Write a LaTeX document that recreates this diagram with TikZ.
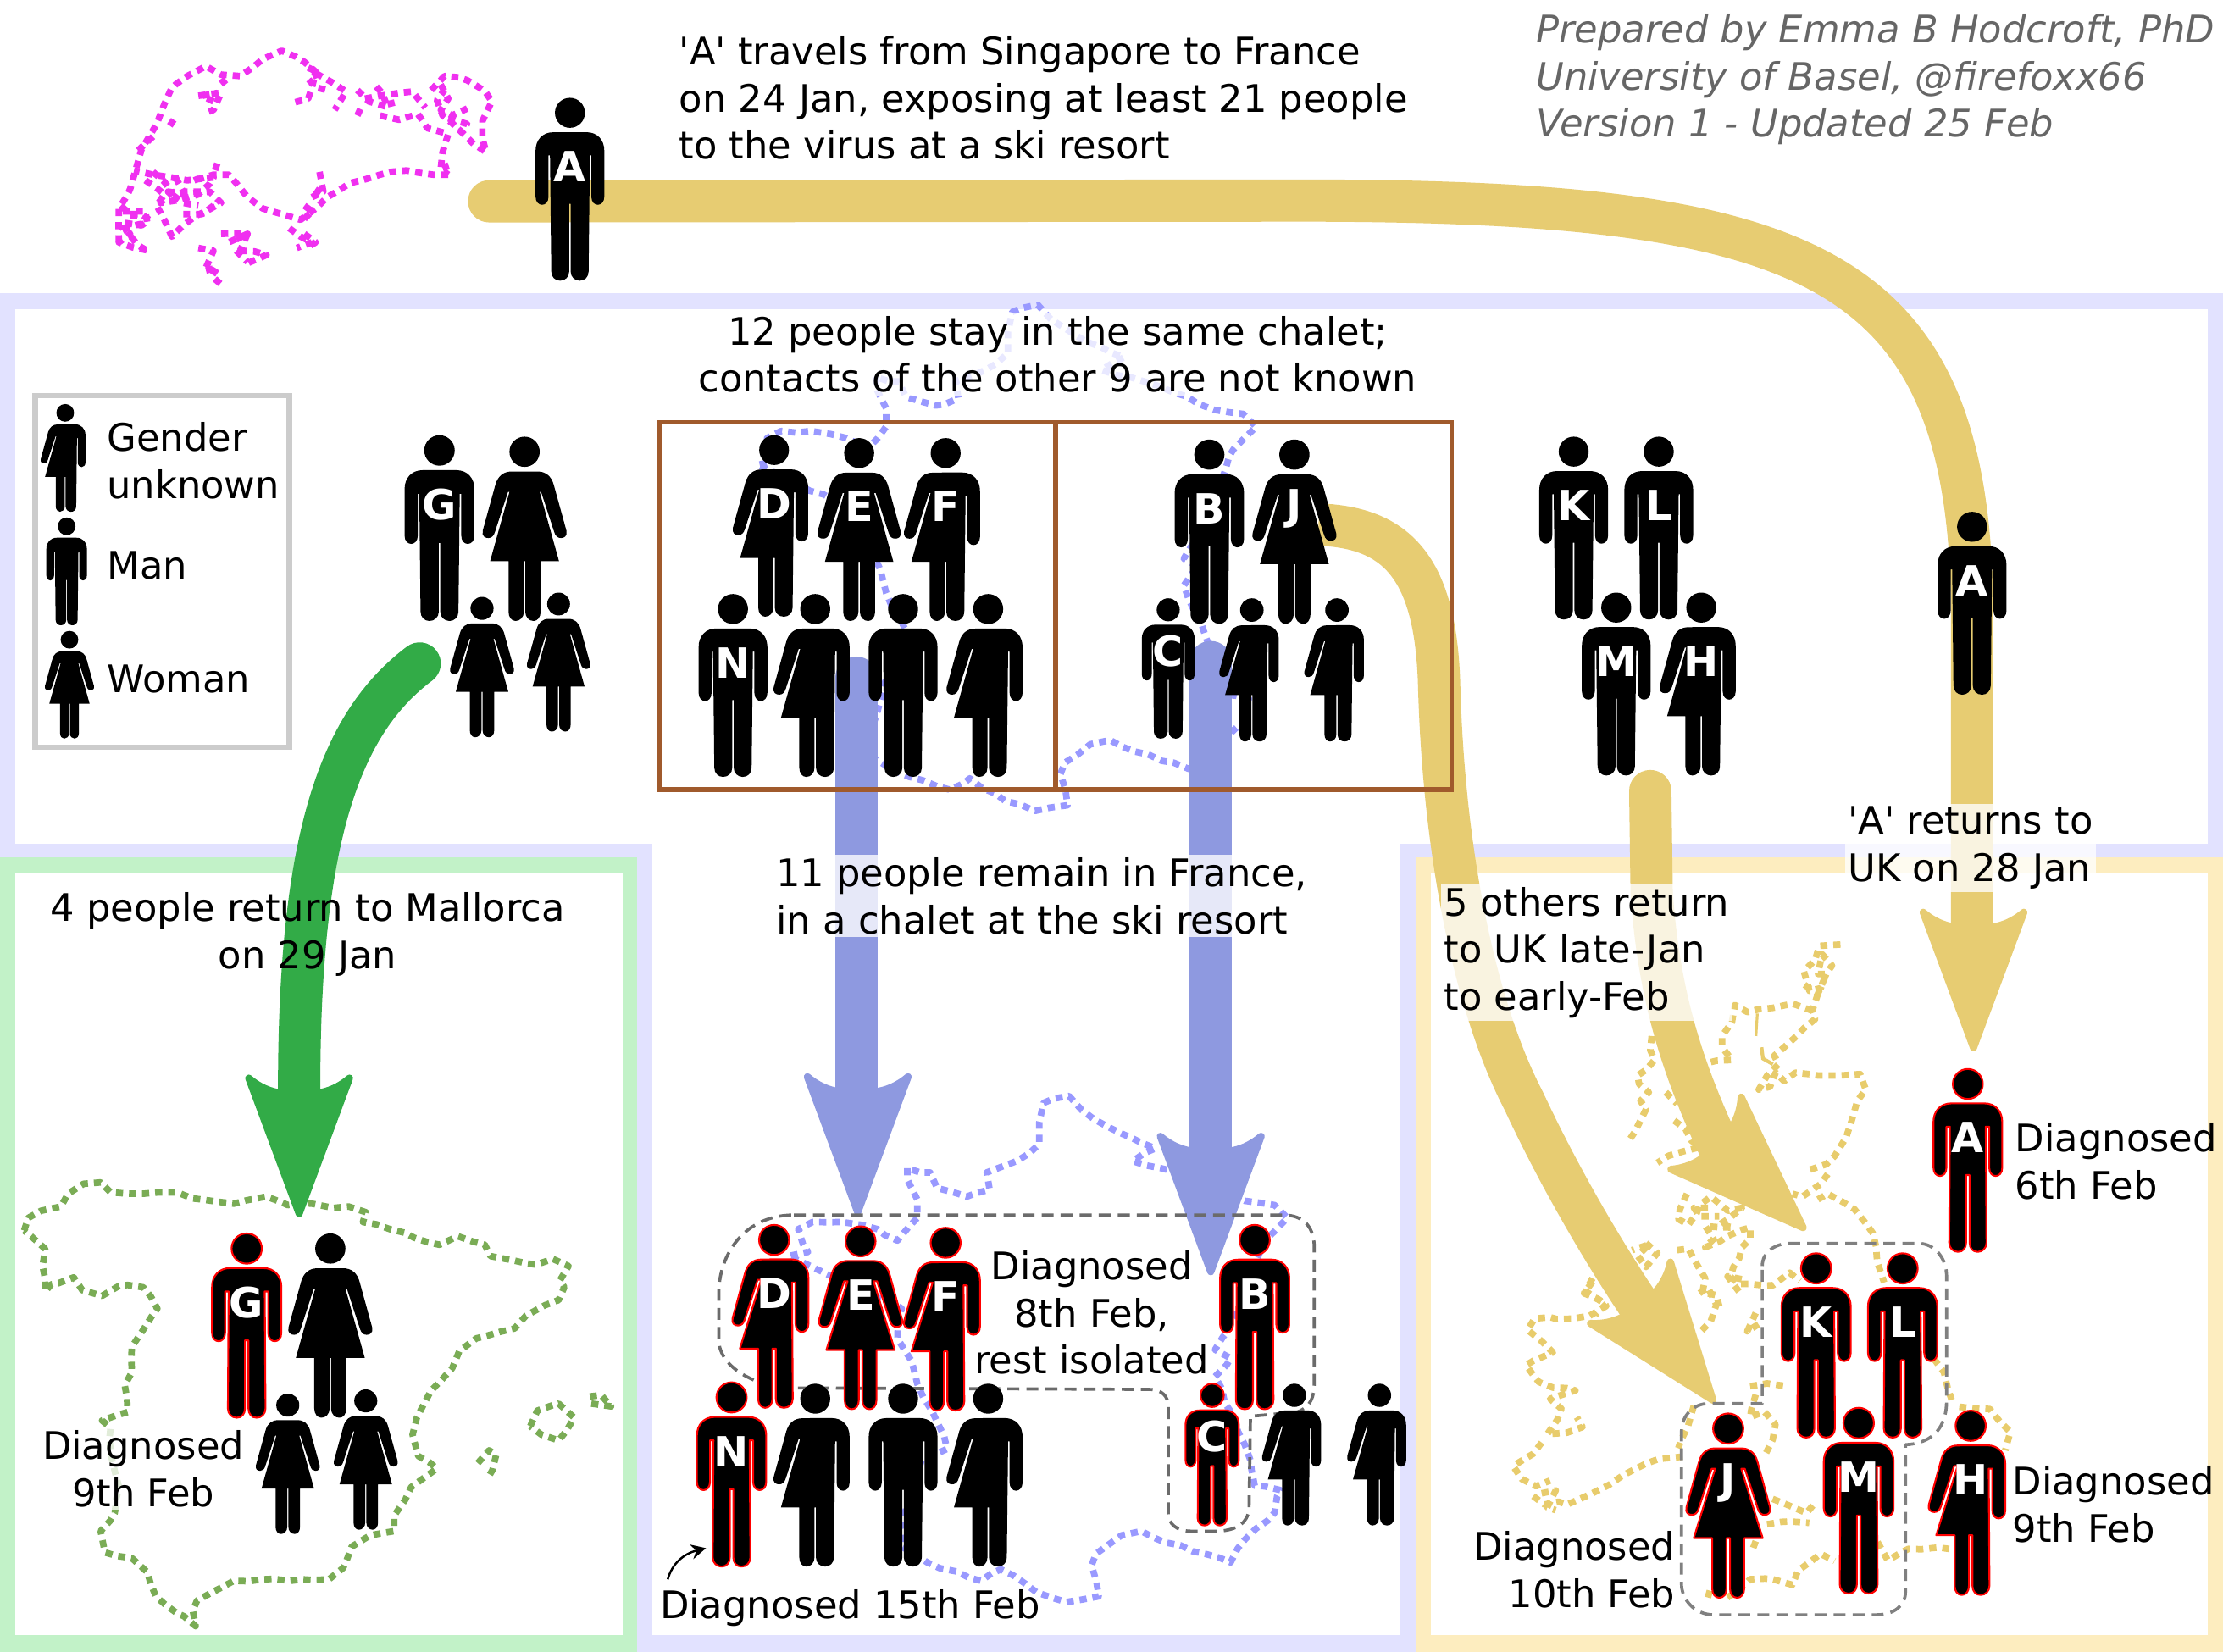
\documentclass[tikz,border=0pt]{standalone}
\usepackage{fontspec}
\usetikzlibrary{arrows.meta,decorations.pathmorphing}
\newfontfamily\djv{DejaVu Sans}
\definecolor{lav}{HTML}{E2E2FF}
\definecolor{mint}{HTML}{C2F2C8}
\definecolor{cream}{HTML}{FDEDBF}
\definecolor{yel}{HTML}{E7CC72}
\definecolor{blu}{HTML}{8E99E0}
\definecolor{grn}{HTML}{32AB47}
\definecolor{brn}{HTML}{A05A2C}
\definecolor{mapb}{HTML}{9999FF}
\definecolor{mapg}{HTML}{7AAC55}
\definecolor{mapm}{HTML}{F030F0}
\definecolor{mapy}{HTML}{E8CC6C}
\newcounter{figc}
\def\manR#1{(0,18.8) -- (9,18.8) .. controls (15,18.8) and (18.8,23) .. (18.8,29) -- (18.8,54) .. controls (18.8,57) and (17,58.5) .. (15.2,58.5) .. controls (13.5,58.5) and (11.7,57) .. (11.7,54) -- (11.7,31.5) -- ({11.7-2*\g},31.5) -- (10.2,95) .. controls (10.2,98) and (8,100) .. (5.4,100) .. controls (2.7,100) and (\g,98) .. (\g,95) -- (\g,#1) -- (0,#1)}
\def\manL#1{-- (-\g,#1) -- (-\g,95) .. controls (-\g,98) and (-2.7,100) .. (-5.4,100) .. controls (-8,100) and (-10.2,98) .. (-10.2,95) -- ({-11.7+2*\g},31.5) -- (-11.7,31.5) -- (-11.7,54) .. controls (-11.7,57) and (-13.5,58.5) .. (-15.2,58.5) .. controls (-17,58.5) and (-18.8,57) .. (-18.8,54) -- (-18.8,29) .. controls (-18.8,23) and (-15,18.8) .. (-9,18.8) -- cycle}
\def\womR{(0,18.9) -- (7,18.9) .. controls (11.5,18.9) and (14.5,21.5) .. (15.8,26) -- (22.7,51) .. controls (23.3,54) and (21.5,55) .. (19.7,55) .. controls (18,55) and (16.7,54) .. (16,51.5) -- (9,30) -- ({9-2*\g},30) -- (18.7,67.6) -- (8.7,67.6) -- (8.7,95) .. controls (8.7,98) and (7,100) .. (4.9,100) .. controls (2.5,100) and (\g,98) .. (\g,95) -- (\g,67.6) -- (0,67.6)}
\def\womL{-- (-\g,67.6) -- (-\g,95) .. controls (-\g,98) and (-2.5,100) .. (-4.9,100) .. controls (-7,100) and (-8.7,98) .. (-8.7,95) -- (-8.7,67.6) -- (-18.7,67.6) -- ({-9+2*\g},30) -- (-9,30) -- (-16,51.5) .. controls (-16.7,54) and (-18,55) .. (-19.7,55) .. controls (-21.5,55) and (-23.3,54) .. (-22.7,51) -- (-15.8,26) .. controls (-14.5,21.5) and (-11.5,18.9) .. (-7,18.9) -- cycle}
% #1 type 1 man 2 woman 3 unknown, #2 cx, #3 top, #4 bottom, #5 letter, #6 red flag
\newcommand{\person}[6]{%
  \stepcounter{figc}%
  \pgfmathsetmacro\s{(#4-#3)/100}%
  \ifnum#6=1 \def\g{0.95}\tikzset{fg/.style={fill=black,draw=red,line width=0.6pt,line join=round}}%
  \else \def\g{0.4}\tikzset{fg/.style={fill=black}}\fi
  \begin{scope}[shift={(#2,#3)},scale=\s]
    \path[fg] (0,8.2) ellipse[x radius=8.2,y radius=8.2];
    \ifcase#1\or \path[fg] \manR{58} \manL{58};
    \or \path[fg] \womR \womL;
    \or \path[fg] \manR{67.6} \womL;
    \fi
  \end{scope}
  \if\relax\detokenize{#5}\relax\else
    \node[lettr] (fig\arabic{figc}) at ({#2},{#3+0.375*(#4-#3)}) {#5};
  \fi
}
% head: tip x,y, rotation, colour
\newcommand{\ahead}[4]{%
  \filldraw[fill=#4,draw=#4,line width=2.4pt,line join=round,shift={(#1,#2)},rotate=#3]
    (0,-3) -- (35.5,-98.5) .. controls (28,-92) and (20,-89) .. (13,-88) -- (-13,-88) .. controls (-20,-89) and (-28,-92) .. (-35.5,-98.5) -- cycle;}
\def\francepath{(640,824) -- (640,832) -- (647,846) -- (647,859) -- (633,875) -- (619,867) -- (594,862) -- (573,862) -- (563,867) -- (570,883) -- (556,886) -- (584,899) -- (612,912) -- (636,923) -- (633,944) -- (643,960) -- (647,976) -- (661,1003) -- (668,1022) -- (650,1030) -- (636,1075) -- (636,1091) -- (654,1102) -- (692,1115) -- (706,1107) -- (731,1123) -- (752,1130) -- (775,1126) -- (770,1104) -- (773,1096) -- (791,1083) -- (805,1080) -- (822,1088) -- (850,1096) -- (868,1102) -- (878,1086) -- (899,1067) -- (903,1051) -- (885,1048) -- (882,1030) -- (878,1019) -- (857,971) -- (868,958) -- (857,952) -- (866,939) -- (892,875) -- (908,859) -- (899,850) -- (878,847) -- (850,835) -- (819,824) -- (799,819) -- (815,810) -- (799,803) -- (780,794) -- (763,783) -- (754,773) -- (736,778) -- (733,792) -- (733,807) -- (717,819) -- (696,827) -- (698,839) -- (682,844) -- (661,838) -- (656,827) -- (649,827) -- cycle}
\tikzset{
  txt/.style={inner sep=1pt,align=left},
  ctxt/.style={inner sep=1pt,align=center},
  rtxt/.style={inner sep=1pt,align=right},
  veil/.style={fill=white,fill opacity=.78,text opacity=1},
  lettr/.style={text=white,inner sep=0pt,font=\djv\bfseries\fontsize{14}{14}\selectfont},
  dots/.style={line width=2.2pt,dash pattern=on 2.4pt off 2pt,line join=round,decorate,decoration={random steps,segment length=5pt,amplitude=.55pt}},
  group/.style={draw=#1,line width=1.05pt,dash pattern=on 4pt off 2.4pt,line join=round},
  shaft/.style={draw=#1,line width=14.2pt},
  sg/.style={draw=mapm,dots},
  uk/.style={draw=mapy,dots},
}
\begin{document}
\begin{tikzpicture}[x=0.016735cm,y=-0.016735cm,every node/.style={font=\djv\fontsize{12.75}{15.8}\selectfont}]
\pgfmathsetseed{7}
\useasboundingbox (0,0) rectangle (1568,1165.2);
% panels
\fill[white] (0,0) rectangle (1568,1165.2);
\fill[lav] (0,207) rectangle (1568,1165.2);
\fill[white] (11,218) rectangle (1557,595);
\fill[white] (460,595) rectangle (988,1153);
\fill[mint] (0,605) rectangle (449.5,1165.2);
\fill[white] (11,616) rectangle (439,1153);
\fill[cream] (998.5,605) rectangle (1568,1165.2);
\fill[white] (1009,616) rectangle (1557,1153);
% Singapore
\begin{scope}[shift={(59.8,17.9)},x=0.004464cm,y=-0.003334cm]
\draw[sg] (90,770) -- (90,650) -- (120,580) -- (135,510) -- (150,440) -- (190,350) -- (210,280) -- (240,210) -- (320,145) -- (360,175) -- (410,180) -- (470,120) -- (520,90) -- (580,130) -- (610,165) -- (600,220) -- (590,260) -- (550,275);
\draw[sg] (610,170) -- (650,200) -- (690,235) -- (660,300);
\draw[sg] (720,230) -- (750,270) -- (800,290) -- (785,240) -- (765,210);
\draw[sg] (740,260) -- (830,240) -- (865,235) -- (880,260) -- (850,270);
\draw[sg] (720,320) -- (730,290);
\draw[sg] (780,320) -- (830,335) -- (880,315) -- (905,365) -- (960,385) -- (945,450) -- (940,510) -- (960,530);
\draw[sg] (960,530) -- (920,530) -- (850,515) -- (780,530) -- (700,560) -- (640,610) -- (610,650) -- (570,690) -- (520,670) -- (470,650) -- (430,610) -- (400,560) -- (380,530) -- (340,530) -- (270,550) -- (230,540) -- (180,530) -- (130,515);
\draw[sg] (915,230) -- (950,180) -- (1010,195) -- (1060,240) -- (1075,270) -- (1050,340) -- (1050,400) -- (1060,450) -- (1000,385) -- (945,320) -- (930,265) -- (950,230);
\draw[sg] (960,330) -- (1010,350) -- (990,380);
\draw[sg] (100,660) -- (130,660) -- (160,660) -- (165,700) -- (100,720) -- (120,740) -- (90,770) -- (170,800);
\draw[sg] (130,660) -- (130,710);
\draw[sg] (95,640) -- (120,670) -- (150,670) -- (170,690) -- (150,710) -- (100,700) -- (110,730) -- (140,780) -- (165,800);
\draw[sg] (160,550) -- (210,600) -- (190,640) -- (210,690) -- (230,750) -- (260,710) -- (320,660) -- (360,630) -- (330,590) -- (260,600) -- (220,590) -- (260,630) -- (300,640);
\draw[sg] (180,520) -- (230,590) -- (200,630) -- (250,620) -- (300,600) -- (340,540) -- (280,555);
\draw[sg] (240,540) -- (260,590) -- (310,590);
\draw[sg] (340,640) -- (310,670) -- (260,670);
\draw[sg] (350,490) -- (340,530);
\draw[sg] (360,740) -- (430,740) -- (380,770);
\draw[sg] (400,760) -- (430,740) -- (410,800);
\draw[sg] (300,790) -- (340,800) -- (330,830) -- (300,820);
\draw[sg] (320,870) -- (350,860) -- (335,890) -- (365,925);
\draw[sg] (410,800) -- (480,815) -- (420,850);
\draw[sg] (400,800) -- (430,840);
\draw[sg] (540,720) -- (570,750) -- (600,770) -- (560,790);
\draw[sg] (580,740) -- (610,770) -- (585,790);
\draw[sg] (620,520) -- (630,590) -- (600,610);
\draw[sg] (580,640) -- (600,660) -- (570,700);
\draw[sg] (610,600) -- (625,570);
\draw[sg] (300,250) -- (360,240) -- (340,300) -- (320,310);
\draw[sg] (340,270) -- (310,250) -- (350,240);
\draw[sg] (360,190) -- (375,215);
\draw[sg] (235,335) -- (220,365);
\draw[sg] (180,395) -- (160,420) -- (185,445);
\draw[sg] (590,150) -- (620,170) -- (590,190) -- (610,220) -- (640,230);
\draw[sg] (800,280) -- (830,270);
\draw[sg] (940,210) -- (960,260) -- (940,300) -- (970,320) -- (1010,295);
\draw[sg] (950,490) -- (960,530);
\end{scope}
% France
\begin{scope}[shift={(-22,-558)}]
\draw[mapb,dots] \francepath;
\end{scope}
\draw[mapb,dots] \francepath;
% Spain
\draw[mapg,dots] (17,868) -- (20,859) -- (29,854) -- (43,851) -- (48,842) -- (59,835) -- (71,834) -- (78,841) -- (101,842) -- (125,841) -- (142,846) -- (165,849) -- (188,844) -- (203,850) -- (220,849) -- (235,852) -- (246,851) -- (258,855) -- (256,862) -- (275,867) -- (292,873) -- (310,878) -- (323,872) -- (342,878) -- (346,886) -- (362,889) -- (378,892) -- (390,888) -- (401,893) -- (395,903) -- (398,908) -- (394,917) -- (371,928) -- (363,937) -- (336,944) -- (324,953) -- (319,965) -- (304,981) -- (294,1000) -- (291,1012) -- (295,1027) -- (308,1036) -- (290,1049) -- (278,1069) -- (278,1080) -- (261,1083) -- (248,1091) -- (242,1106) -- (232,1114) -- (214,1114) -- (185,1114) -- (165,1115) -- (148,1124) -- (139,1129) -- (136,1136) -- (138,1147) -- (125,1138) -- (110,1126) -- (104,1109) -- (93,1099) -- (74,1095) -- (71,1080) -- (81,1067) -- (84,1049) -- (78,1025) -- (78,1007) -- (72,1002) -- (90,996) -- (88,977) -- (93,968) -- (93,950) -- (101,938) -- (111,923) -- (101,908) -- (84,907) -- (72,914) -- (58,910) -- (52,901) -- (36,906) -- (32,911) -- (30,893) -- (32,881) -- (22,872) -- cycle;
\draw[mapg,dots] (374,1006) -- (379,995) -- (394,990) -- (405,1000) -- (394,1016) -- (382,1012) -- cycle;
\draw[mapg,dots] (416,985) -- (424,984) -- (431,992) -- (417,990);
\draw[mapg,dots] (337,1032) -- (345,1023) -- (350,1026) -- (345,1041);
% UK
\begin{scope}[shift={(1075.6,633.4)},x=0.003334cm,y=-0.003334cm]
\draw[uk] (1120,165) -- (1045,170) -- (1030,220) -- (990,260) -- (1010,330) -- (1050,320) -- (1090,240) -- (1055,200) -- (1040,270) -- (1070,270) -- (1040,340) -- (980,300);
\draw[uk] (1040,340) -- (1020,400) -- (1030,430) -- (970,485) -- (920,530) -- (885,560) -- (900,590) -- (860,630) -- (830,680) -- (870,670) -- (890,620) -- (920,650) -- (960,620) -- (1040,630) -- (1120,630) -- (1190,625) -- (1210,680) -- (1180,720) -- (1160,790) -- (1140,850) -- (1100,915) -- (1070,945) -- (1010,965);
\draw[uk] (1075,980) -- (1050,1015) -- (985,1060) -- (950,1050);
\draw[uk] (1040,1070) -- (1075,1050) -- (1130,1080) -- (1170,1105) -- (1210,1155) -- (1235,1190) -- (1250,1290) -- (1275,1365);
\draw[uk] (1020,400) -- (950,375) -- (880,390) -- (830,395) -- (790,405) -- (745,380) -- (735,440) -- (700,490) -- (700,530) -- (735,575) -- (650,585);
\draw[uk] (450,490) -- (445,540) -- (460,575) -- (430,610) -- (400,630) -- (405,660) -- (440,690) -- (410,720) -- (430,750) -- (410,790) -- (390,830) -- (370,860);
\draw[uk] (500,690) -- (540,730);
\draw[uk] (530,790) -- (570,820) -- (590,860) -- (620,885) -- (560,900) -- (510,915) -- (470,940);
\draw[uk] (575,1050) -- (550,1105) -- (545,1140) -- (580,1160) -- (620,1090) -- (660,1060) -- (720,1110) -- (770,1100) -- (690,1160) -- (740,1170) -- (640,1165) -- (670,1210) -- (640,1240) -- (720,1200) -- (800,1170) -- (800,1210) -- (770,1240) -- (760,1280) -- (740,1310) -- (730,1345) -- (760,1370) -- (800,1370) -- (880,1375) -- (940,1330) -- (975,1360);
\draw[uk] (650,1100) -- (600,1100) -- (620,1130) -- (690,1130);
\draw[uk] (540,1250) -- (580,1245) -- (610,1300) -- (640,1350) -- (630,1400) -- (680,1410) -- (690,1450);
\draw[uk] (430,1225) -- (470,1260) -- (430,1310) -- (400,1270) -- (440,1230) -- (380,1250);
\draw[uk] (240,1350) -- (215,1395) -- (250,1420) -- (290,1440) -- (250,1480);
\draw[mapy,line width=.9pt] (825,410) -- (820,490);
\draw[mapy,line width=1.2pt] (840,530) -- (845,570) -- (880,590);
\end{scope}
\begin{scope}[shift={(1039.7,896.3)},x=0.003334cm,y=-0.003334cm]
\draw[uk] (420,40) -- (390,80) -- (440,100) -- (470,125) -- (410,160) -- (350,170) -- (270,165) -- (215,170) -- (190,210) -- (240,250) -- (280,290) -- (210,320) -- (185,335) -- (210,370) -- (230,395) -- (280,415) -- (360,425) -- (270,455) -- (310,490) -- (295,530) -- (260,580) -- (330,575) -- (385,555) -- (365,520);
\draw[uk] (240,610) -- (210,650) -- (160,680) -- (140,695) -- (170,740) -- (220,765) -- (270,745);
\draw[uk] (210,800) -- (250,830) -- (300,820) -- (330,830) -- (420,790) -- (480,760) -- (560,710) -- (610,685) -- (690,665) -- (740,660);
\draw[uk] (240,790) -- (290,780) -- (260,840) -- (290,850);
\draw[uk] (800,80) -- (830,60) -- (860,120) -- (840,180) -- (800,220);
\draw[uk] (950,30) -- (900,20) -- (945,80);
\draw[uk] (1000,150) -- (970,215) -- (1025,180);
\draw[uk] (980,410) -- (1040,400) -- (1110,410);
\draw[uk] (780,480) -- (760,550) -- (725,630);
\draw[uk] (1000,440) -- (980,520) -- (1030,500) -- (1070,545) -- (1060,600) -- (1030,660);
\draw[uk] (1060,810) -- (1110,830) -- (1180,860) -- (1210,825);
\draw[uk] (1040,900) -- (1120,890) -- (1190,895);
\draw[uk] (1000,960) -- (985,1000);
\draw[uk] (830,1160) -- (840,1125);
\draw[uk] (900,1160) -- (980,1095) -- (1060,1095) -- (1130,1115) -- (1150,1065) -- (1230,1005) -- (1280,1030);
\end{scope}
\begin{scope}[shift={(1003.9,657.3)},x=0.00602cm,y=-0.00542cm]
\draw[uk] (1000,930) -- (1020,960) -- (1035,1020);
\draw[uk] (1050,1035) -- (1110,1040) -- (1150,1090) -- (1140,1130);
\draw[uk] (890,1330) -- (910,1370) -- (950,1345) -- (1030,1345);
\end{scope}
% named ends of the fat arrows
\coordinate (aS) at (345,142); \coordinate (aE) at (1391,650);
\coordinate (gS) at (296,468); \coordinate (gE) at (211,768);
\coordinate (bS) at (604,478); \coordinate (bE) at (604,770);
\coordinate (cS) at (854,467); \coordinate (cE) at (854,812);
\coordinate (jS) at (930,370); \coordinate (jE) at (1161,928);
\coordinate (mS) at (1164,558); \coordinate (mE) at (1213,810);
% arrows
\draw[shaft=yel,line cap=round] (aS) -- (896,141.5) .. controls (1270,140) and (1385,180) .. (1391,420) -- (aE);
\ahead{1392}{742}{0}{yel}
\draw[shaft=grn,line cap=round] (gS) .. controls (240,510) and (211,590) .. (gE);
\ahead{211}{859}{0}{grn}
\draw[shaft=blu,line cap=round] (bS) -- (bE);
\ahead{605}{858}{0}{blu}
\draw[shaft=blu,line cap=round] (cS) -- (cE);
\ahead{854}{900}{0}{blu}
\draw[shaft=yel] (jS) .. controls (985,372) and (1012,400) .. (1015,480) .. controls (1018,600) and (1040,710) .. (1075,777) .. controls (1095,820) and (1125,875) .. (jE);
\ahead{1210}{990}{37.5}{yel}
\draw[shaft=yel,line cap=round] (mS) -- (1165,630) .. controls (1170,700) and (1185,750) .. (mE);
\ahead{1274}{868}{45.8}{yel}
% legend and chalet boxes
\draw[draw=black!20,line width=1.9pt] (25,279) rectangle (204,527);
\draw[brn,line width=1.5pt] (465,298) rectangle (1024,557) (744.5,298) -- (744.5,557);
% dashed groups
\draw[group=black!58] (560,857) -- (905,857) .. controls (920,857) and (927,866) .. (927,880) -- (927,975) .. controls (927,985) and (925,992) .. (915,996) -- (882,999) -- (881,1064) .. controls (880,1075) and (872,1079) .. (860,1080) -- (840,1080) .. controls (830,1080) and (824,1075) .. (824,1067) -- (824,992) .. controls (824,985) and (820,980) .. (810,980) -- (559,979) .. controls (535,979) and (507,965) .. (507,945) -- (507,912) .. controls (507,885) and (525,857) .. (560,857) -- cycle;
\draw[group=black!50] (1243,893) .. controls (1243,883) and (1252,877) .. (1263,877) -- (1353,877) .. controls (1365,877) and (1373,888) .. (1373,900) -- (1373,988) .. controls (1373,1005) and (1365,1018) .. (1344,1019) -- (1344,1123) .. controls (1344,1133) and (1335,1139) .. (1324,1139) -- (1209,1139) .. controls (1195,1139) and (1186,1128) .. (1186,1117) -- (1186,1010) .. controls (1186,998) and (1195,990) .. (1205,990) -- (1243,990) -- cycle;
% text
\node[txt] (t1) at (736,69) {'A' travels from Singapore to France\\on 24 Jan, exposing at least 21 people\\to the virus at a ski resort};
\node[txt,anchor=west,text=black!60,font=\djv\itshape\fontsize{12.75}{15.8}\selectfont] (t2) at (1081,56) {Prepared by Emma B Hodcroft, PhD\\University of Basel, @firefoxx66\\Version 1 - Updated 25 Feb};
\node[ctxt,veil] (t3) at (746,250) {12 people stay in the same chalet;\\contacts of the other 9 are not known};
\node[txt,anchor=west] (t4) at (73,325) {Gender\\unknown};
\node[txt,anchor=west] (t5) at (73,399) {Man};
\node[txt,anchor=west] (t6) at (73,479) {Woman};
\node[txt,veil,anchor=west] (t7) at (545,632) {11 people remain in France,\\in a chalet at the ski resort};
\node[ctxt] (t8) at (217,659) {4 people return to Mallorca\\on 29 Jan};
\node[txt,veil,anchor=west] (t9) at (1016,672) {5 others return\\to UK late-Jan\\to early-Feb};
\node[txt,veil,anchor=west] (t10) at (1301,598) {'A' returns to\\UK on 28 Jan};
\node[ctxt,veil] (t11) at (101,1036) {Diagnosed\\9th Feb};
\node[ctxt] (t12) at (770,926) {Diagnosed\\8th Feb,\\rest isolated};
\node[txt,anchor=west] (t13) at (463,1134) {Diagnosed 15th Feb};
\node[txt,anchor=west] (t14) at (1419,819) {Diagnosed\\6th Feb};
\node[txt,anchor=west] (t15) at (1417,1061) {Diagnosed\\9th Feb};
\node[rtxt,anchor=east] (t16) at (1184,1107) {Diagnosed\\10th Feb};
\coordinate (nS) at (471,1114); \coordinate (nE) at (498,1092);
\draw[-{Stealth[length=5pt,width=5pt]},line width=.7pt] (nS) .. controls (474,1103) and (482,1096) .. (nE);
% people
\person{1}{402}{69}{198}{A}{0}
\person{3}{46}{285}{361}{}{0}
\person{1}{47}{365}{441}{}{0}
\person{2}{49}{445}{521}{}{0}
\person{1}{310}{307}{438}{G}{0}
\person{2}{370}{308}{438}{}{0}
\person{2}{340}{421}{520}{}{0}
\person{2}{394}{418}{516}{}{0}
\person{3}{546}{307}{435}{D}{0}
\person{2}{606}{309}{438}{E}{0}
\person{3}{667}{309}{438}{F}{0}
\person{1}{517}{419}{548}{N}{0}
\person{3}{575}{419}{548}{}{0}
\person{1}{637}{419}{548}{}{0}
\person{3}{697}{419}{548}{}{0}
\person{1}{853}{310}{440}{B}{0}
\person{2}{913}{310}{440}{J}{0}
\person{1}{824}{422}{521}{C}{0}
\person{3}{883}{422}{523}{}{0}
\person{3}{943}{422}{523}{}{0}
\person{1}{1110}{308}{437}{K}{0}
\person{1}{1170}{308}{437}{L}{0}
\person{1}{1140}{418}{547}{M}{0}
\person{3}{1200}{418}{547}{H}{0}
\person{1}{1391}{361}{490}{A}{0}
\person{1}{174}{870}{1000}{G}{1}
\person{2}{233}{870}{1000}{}{0}
\person{2}{203}{983}{1082}{}{0}
\person{2}{258}{980}{1079}{}{0}
\person{3}{546}{864}{993}{D}{1}
\person{2}{607}{865}{994}{E}{1}
\person{3}{667}{866}{995}{F}{1}
\person{1}{516}{975}{1105}{N}{1}
\person{3}{575}{976}{1105}{}{0}
\person{1}{637}{976}{1105}{}{0}
\person{3}{697}{976}{1105}{}{0}
\person{1}{885}{864}{994}{B}{1}
\person{1}{855}{976}{1076}{C}{1}
\person{3}{913}{976}{1076}{}{0}
\person{3}{973}{976}{1076}{}{0}
\person{1}{1388}{754}{883}{A}{1}
\person{1}{1281}{884}{1014}{K}{1}
\person{1}{1342}{884}{1014}{L}{1}
\person{2}{1219}{997}{1127}{J}{1}
\person{1}{1311}{993}{1124}{M}{1}
\person{3}{1390}{995}{1125}{H}{1}
\end{tikzpicture}
\end{document}
